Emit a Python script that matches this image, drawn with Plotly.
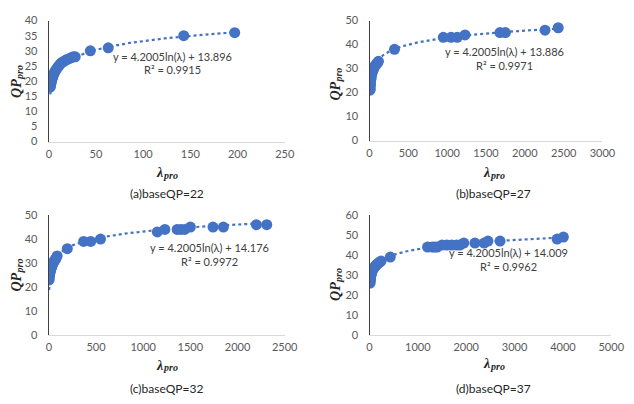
import numpy as np
import plotly.graph_objects as go

# ---------------- data ----------------
a_lambda = [1.5, 1.8, 2.1, 2.4, 2.8, 3.2, 3.7, 4.2, 4.8, 5.5, 6.3, 7.2, 8.2, 9.3, 10.5, 11.8, 13.2, 14.8,
            16.5, 18.5, 21, 23.5, 26, 28, 44, 63, 143, 197]
a_qp = [18, 18.5, 19, 19.5, 20, 20.5, 21, 21.5, 22, 22.5, 23, 23.5, 24, 24.5, 25, 25.5, 26, 26.3,
        26.6, 27, 27.3, 27.7, 28, 28, 30, 31, 35, 36]

b_lambda = [6, 7, 8, 9, 10, 12, 14, 16, 19, 22, 26, 30, 35, 40, 46, 53, 60, 70, 80, 92, 105, 115,
            322, 950, 1050, 1130, 1230, 1680, 1750, 2260, 2430]
b_qp = [21, 21.5, 22, 23, 23.5, 24, 25, 25.5, 26, 27, 27.5, 28, 28.5, 29, 29.5, 30, 30.5, 31, 31.5,
        32, 32.5, 33, 38, 43, 43, 43, 44, 45, 45, 46, 47]

c_lambda = [3, 5, 8, 12, 15, 18, 22, 26, 30, 35, 40, 46, 52, 60, 68, 77, 88, 196, 369, 444, 548,
            1150, 1230, 1360, 1400, 1440, 1500, 1740, 1850, 2200, 2310]
c_qp = [23, 24, 25, 26, 26.5, 27, 27.5, 28, 28.5, 29, 29.5, 30, 30.5, 31, 31.5, 32, 33, 36, 39, 39,
        40, 43, 44, 44, 44, 44, 45, 45, 45, 46, 46]

d_lambda = [13, 16, 20, 25, 30, 36, 43, 52, 62, 75, 90, 105, 122, 140, 160, 185, 210, 240, 430,
            1200, 1300, 1350, 1400, 1500, 1600, 1700, 1800, 1870, 1950, 2180, 2370, 2450, 2700,
            3880, 4010]
d_qp = [26, 27, 28, 29, 30, 30.5, 31, 32, 32.5, 33, 33.5, 34, 34.5, 35, 35.5, 36, 36.5, 37, 39,
        44, 44, 44, 44, 45, 45, 45, 45, 45, 46, 46, 46, 47, 47, 48, 49]

# trendline coefficients (y = slope*ln(x) + intercept) and R^2, as printed
slopes = [4.2005, 4.2005, 4.2005, 4.2005]
intercepts = [13.896, 13.886, 14.176, 14.009]
r2 = ["0.9915", "0.9971", "0.9972", "0.9962"]
captions = ["(a)baseQP=22", "(b)baseQP=27", "(c)baseQP=32", "(d)baseQP=37"]
x_max = [250, 3000, 2500, 5000]
x_step = [50, 500, 500, 1000]
y_max = [40, 50, 50, 60]
y_step = [5, 10, 10, 10]

series = [(a_lambda, a_qp), (b_lambda, b_qp), (c_lambda, c_qp), (d_lambda, d_qp)]

# ---------------- layout (pixel boxes) ----------------
W, H = 634, 404
boxes = [(47, 289, 14, 139), (376, 615, 14, 138), (47, 289, 215, 339), (376, 624, 215, 339)]
eq_pos = [(174, 51), (514, 46), (212, 249), (519, 254)]
ytitle_pos = [(14, 77), (341, 80), (14, 277), (341, 287)]
xtitle_pos = [(168, 171), (503, 171), (168, 370), (503, 368)]
cap_pos = [(168, 193), (503, 193), (168, 394), (503, 394)]

def px(x):
    return x / W

def py(y):
    return 1 - y / H

BLUE = "#4472C4"
TICK = dict(family="Lato", size=11, color="#595959")
MAIN_FONT = dict(family="Liberation Serif", size=14, color="#262626", weight="bold", style="italic")
SUB_FONT = dict(family="Liberation Serif", size=10, color="#262626", weight="bold", style="italic")

fig = go.Figure()
annotations = []

def ann(x, y, text, font, angle=0):
    annotations.append(dict(x=px(x), y=py(y), xref="paper", yref="paper", showarrow=False,
                            text=text, font=font, textangle=angle,
                            xanchor="center", yanchor="middle"))

for i, (lam, qp) in enumerate(series):
    ax = "" if i == 0 else str(i + 1)
    xa, ya = "x" + ax, "y" + ax
    # trendline
    xt = np.linspace(min(lam), max(lam), 400)
    yt = slopes[i] * np.log(xt) + intercepts[i]
    fig.add_trace(go.Scatter(x=xt, y=yt, mode="lines", xaxis=xa, yaxis=ya,
                             line=dict(color=BLUE, width=2.2, dash="dot"),
                             hoverinfo="skip", showlegend=False))
    fig.add_trace(go.Scatter(x=lam, y=qp, mode="markers", xaxis=xa, yaxis=ya,
                             marker=dict(color=BLUE, size=11, line=dict(width=0)),
                             showlegend=False))
    x0, x1, y0, y1 = boxes[i]
    fig.layout["xaxis" + ax] = dict(domain=[px(x0), px(x1)], range=[0, x_max[i]],
                                    tickmode="linear", tick0=0, dtick=x_step[i],
                                    showgrid=False, zeroline=False, showline=True,
                                    linecolor="#D9D9D9", linewidth=1, ticks="",
                                    tickfont=TICK, anchor=ya, ticklabelstandoff=2)
    fig.layout["yaxis" + ax] = dict(domain=[py(y1), py(y0)], range=[0, y_max[i]],
                                    tickmode="linear", tick0=0, dtick=y_step[i],
                                    showgrid=False, zeroline=False, showline=True,
                                    linecolor="#404040", linewidth=1.3, ticks="",
                                    tickfont=TICK, anchor=xa, ticklabelstandoff=8)
    ex, ey = eq_pos[i]
    eqfont = dict(family="Lato", size=11, color="#404040")
    ann(ex, ey, f"y = {slopes[i]:.4f}ln(λ) + {intercepts[i]:.3f}", eqfont)
    ann(ex, ey + 14, f"R² = {r2[i]}", eqfont)
    # y title: "QP" + subscript "pro" (rotated)
    tx, ty = ytitle_pos[i]
    ann(tx, ty + 7, "QP", MAIN_FONT, -90)
    ann(tx + 3, ty - 9.5, "pro", SUB_FONT, -90)
    # x title: "λ" + subscript "pro"
    tx, ty = xtitle_pos[i]
    ann(tx - 7, ty, "λ", MAIN_FONT)
    ann(tx + 4, ty + 3, "pro", SUB_FONT)
    cx, cy = cap_pos[i]
    ann(cx, cy, captions[i], dict(family="Lato", size=12, color="#262626"))

fig.update_layout(width=W, height=H, margin=dict(l=0, r=0, t=0, b=0),
                  paper_bgcolor="white", plot_bgcolor="white",
                  annotations=annotations, showlegend=False)

fig.write_html("out.html")
